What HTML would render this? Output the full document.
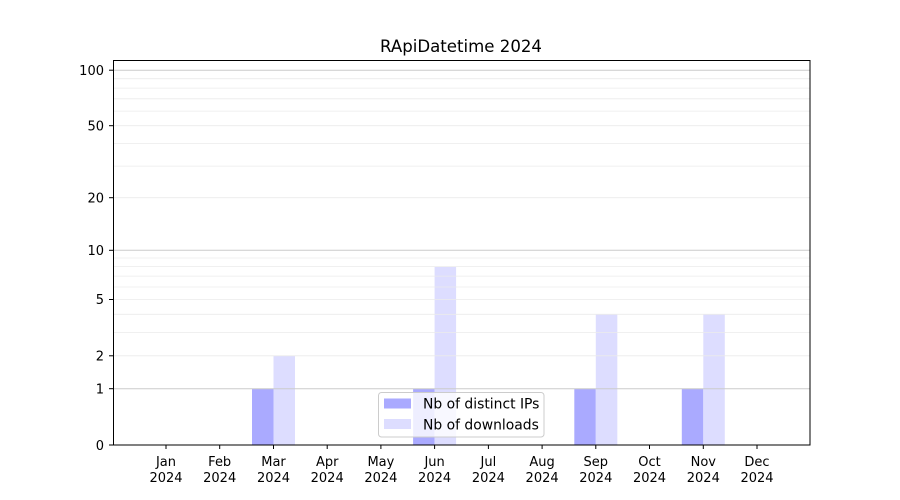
<!DOCTYPE html>
<html><head><meta charset="utf-8"><style>body{margin:0;background:#fff}svg{display:block}text{font-family:"DejaVu Sans","Liberation Sans",sans-serif}</style></head>
<body>
<svg width="900" height="500" xmlns="http://www.w3.org/2000/svg">
<rect width="900" height="500" fill="#fff"/>
<text x="461" y="52" font-size="16.6" text-anchor="middle">RApiDatetime 2024</text>
<g>
<rect x="252" y="388.7" width="21.5" height="56.3" fill="#aaaaff"/>
<rect x="273.5" y="355.8" width="21.5" height="89.2" fill="#ddddff"/>
<rect x="413.1" y="388.7" width="21.5" height="56.3" fill="#aaaaff"/>
<rect x="434.6" y="266.6" width="21.5" height="178.4" fill="#ddddff"/>
<rect x="574.3" y="388.7" width="21.5" height="56.3" fill="#aaaaff"/>
<rect x="595.8" y="314.3" width="21.5" height="130.7" fill="#ddddff"/>
<rect x="681.8" y="388.7" width="21.5" height="56.3" fill="#aaaaff"/>
<rect x="703.3" y="314.3" width="21.5" height="130.7" fill="#ddddff"/>
</g>
<g stroke="#ebebeb" stroke-width="0.8">
<line x1="113" x2="810" y1="355.8" y2="355.8"/>
<line x1="113" x2="810" y1="332.4" y2="332.4"/>
<line x1="113" x2="810" y1="314.3" y2="314.3"/>
<line x1="113" x2="810" y1="299.5" y2="299.5"/>
<line x1="113" x2="810" y1="287.0" y2="287.0"/>
<line x1="113" x2="810" y1="276.1" y2="276.1"/>
<line x1="113" x2="810" y1="266.6" y2="266.6"/>
<line x1="113" x2="810" y1="258.0" y2="258.0"/>
<line x1="113" x2="810" y1="197.7" y2="197.7"/>
<line x1="113" x2="810" y1="166.1" y2="166.1"/>
<line x1="113" x2="810" y1="143.4" y2="143.4"/>
<line x1="113" x2="810" y1="125.7" y2="125.7"/>
<line x1="113" x2="810" y1="111.1" y2="111.1"/>
<line x1="113" x2="810" y1="98.8" y2="98.8"/>
<line x1="113" x2="810" y1="88.1" y2="88.1"/>
<line x1="113" x2="810" y1="78.7" y2="78.7"/>
</g>
<g stroke="#cccccc" stroke-width="1">
<line x1="113" x2="810" y1="388.7" y2="388.7"/>
<line x1="113" x2="810" y1="250.3" y2="250.3"/>
<line x1="113" x2="810" y1="70.2" y2="70.2"/>
</g>
<rect x="113.5" y="60.5" width="696.5" height="384.5" fill="none" stroke="#000" stroke-width="1"/>
<g stroke="#000" stroke-width="1">
<line x1="109" x2="113" y1="445" y2="445"/>
<line x1="109" x2="113" y1="388.7" y2="388.7"/>
<line x1="109" x2="113" y1="355.8" y2="355.8"/>
<line x1="109" x2="113" y1="299.5" y2="299.5"/>
<line x1="109" x2="113" y1="250.3" y2="250.3"/>
<line x1="109" x2="113" y1="197.7" y2="197.7"/>
<line x1="109" x2="113" y1="125.7" y2="125.7"/>
<line x1="109" x2="113" y1="70.2" y2="70.2"/>
</g>
<g font-size="13" text-anchor="end">
<text x="104" y="450">0</text>
<text x="104" y="393.5">1</text>
<text x="104" y="360.5">2</text>
<text x="104" y="304">5</text>
<text x="104" y="255">10</text>
<text x="104" y="202.5">20</text>
<text x="104" y="130.5">50</text>
<text x="104" y="75">100</text>
</g>
<g stroke="#000" stroke-width="1">
<line x1="166" x2="166" y1="445" y2="449"/>
<line x1="219.7" x2="219.7" y1="445" y2="449"/>
<line x1="273.5" x2="273.5" y1="445" y2="449"/>
<line x1="327.2" x2="327.2" y1="445" y2="449"/>
<line x1="380.9" x2="380.9" y1="445" y2="449"/>
<line x1="434.6" x2="434.6" y1="445" y2="449"/>
<line x1="488.4" x2="488.4" y1="445" y2="449"/>
<line x1="542.1" x2="542.1" y1="445" y2="449"/>
<line x1="595.8" x2="595.8" y1="445" y2="449"/>
<line x1="649.5" x2="649.5" y1="445" y2="449"/>
<line x1="703.3" x2="703.3" y1="445" y2="449"/>
<line x1="757" x2="757" y1="445" y2="449"/>
</g>
<g font-size="13" text-anchor="middle">
<text x="166" y="466">Jan</text><text x="166" y="482">2024</text>
<text x="219.7" y="466">Feb</text><text x="219.7" y="482">2024</text>
<text x="273.5" y="466">Mar</text><text x="273.5" y="482">2024</text>
<text x="327.2" y="466">Apr</text><text x="327.2" y="482">2024</text>
<text x="380.9" y="466">May</text><text x="380.9" y="482">2024</text>
<text x="434.6" y="466">Jun</text><text x="434.6" y="482">2024</text>
<text x="488.4" y="466">Jul</text><text x="488.4" y="482">2024</text>
<text x="542.1" y="466">Aug</text><text x="542.1" y="482">2024</text>
<text x="595.8" y="466">Sep</text><text x="595.8" y="482">2024</text>
<text x="649.5" y="466">Oct</text><text x="649.5" y="482">2024</text>
<text x="703.3" y="466">Nov</text><text x="703.3" y="482">2024</text>
<text x="757" y="466">Dec</text><text x="757" y="482">2024</text>
</g>
<rect x="378.5" y="392.5" width="165.5" height="44.5" rx="3" fill="#fff" fill-opacity="0.8" stroke="#cccccc"/>
<rect x="384" y="398.5" width="27" height="10" fill="#aaaaff"/>
<rect x="384" y="419" width="27" height="10" fill="#ddddff"/>
<text x="423" y="408.5" font-size="13.9">Nb of distinct IPs</text>
<text x="423" y="429.5" font-size="13.9">Nb of downloads</text>
</svg>
</body></html>
